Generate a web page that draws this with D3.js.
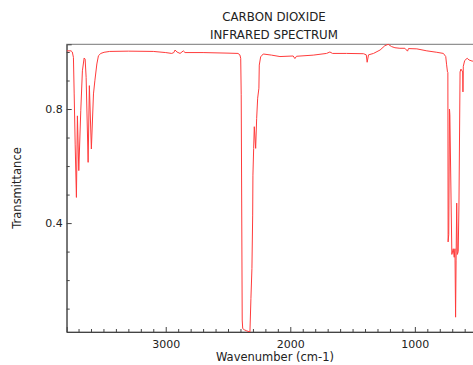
<!DOCTYPE html>
<html>
<head>
<meta charset="utf-8">
<script src="https://cdn.jsdelivr.net/npm/d3@7"></script>
<style>
  body { margin: 0; background: #fff; }
  text { font-family: "DejaVu Sans", sans-serif; fill: #222; }
</style>
</head>
<body>
<div id="chart"></div>
<script>
// spectrum: wavenumber (cm-1) and transmittance
const wavenumber = [
  3794, 3760, 3750, 3741, 3735, 3727, 3717, 3709, 3698, 3682, 3669, 3655, 3647, 3639,
  3623, 3613, 3597, 3580, 3569, 3553, 3540, 3521, 3495, 3450, 3300, 3100, 3000, 2952,
  2935, 2925, 2910, 2885, 2870, 2859, 2845, 2700, 2500, 2420, 2405, 2398, 2394, 2386,
  2382, 2370, 2350, 2324, 2316, 2308, 2302, 2300, 2294, 2289, 2278, 2270, 2262, 2252,
  2249, 2238, 2217, 2150, 2083, 1977, 1963, 1950, 1816, 1709, 1682, 1661, 1548, 1412,
  1390, 1383, 1372, 1332, 1279, 1241, 1214, 1187, 1160, 1120, 1080, 1059, 1051, 984,
  904, 824, 771, 752, 745, 738, 735, 733, 728, 722, 719, 703, 692, 684, 678, 673,
  669, 664, 659, 652, 646, 637, 630, 616, 614, 611, 600, 580, 565, 540, 520
];
const transmittance = [
  1.004, 1.004, 1.0, 0.981, 0.853, 0.677, 0.490, 0.776, 0.584, 0.794, 0.934, 0.979, 0.975, 0.911,
  0.613, 0.882, 0.660, 0.853, 0.899, 0.958, 0.987, 0.995, 0.999, 1.002, 1.003, 1.002, 0.998, 0.995,
  0.998, 1.007, 1.0, 0.995, 1.0, 1.004, 0.998, 0.998, 0.996, 0.995, 0.99, 0.978, 0.85, 0.06,
  0.03, 0.026, 0.022, 0.018, 0.136, 0.241, 0.428, 0.568, 0.662, 0.738, 0.662, 0.767, 0.838, 0.873,
  0.954, 0.983, 0.993, 0.989, 0.984, 0.986, 0.977, 0.985, 0.989, 0.995, 1.0, 0.995, 0.995, 0.994,
  0.99, 0.964, 0.99, 0.995, 1.007, 1.022, 1.027, 1.019, 1.015, 1.013, 1.013, 1.003, 1.012, 1.011,
  1.004, 0.999, 0.995, 0.984, 0.955, 0.93, 0.928, 0.334, 0.36, 0.80, 0.78, 0.29, 0.31, 0.28, 0.31, 0.07,
  0.27, 0.47, 0.29, 0.30, 0.46, 0.93, 0.94, 0.93, 0.86, 0.95, 0.97, 0.978, 0.972, 0.968, 0.968
];
const xMajor = [3000, 2000, 1000];
const yMajor = [0.4, 0.8];
const titleLines = ['CARBON DIOXIDE', 'INFRARED SPECTRUM'];

const width = 473, height = 365;
const plotLeft = 66.7, plotRight = 481, plotTop = 44.3, plotBottom = 332;

const svg = d3.select('#chart').append('svg')
    .attr('width', width)
    .attr('height', height);

const x = d3.scaleLinear().domain([3795, 469]).range([plotLeft, plotRight]);
const y = d3.scaleLinear().domain([0.018, 1.027]).range([plotBottom, plotTop]);

svg.append('clipPath').attr('id', 'plot')
  .append('rect')
    .attr('x', plotLeft).attr('y', plotTop - 1)
    .attr('width', plotRight - plotLeft).attr('height', plotBottom - plotTop + 1);

// frame
svg.append('rect')
    .attr('x', plotLeft).attr('y', plotTop)
    .attr('width', plotRight - plotLeft).attr('height', plotBottom - plotTop)
    .attr('fill', 'none')
    .attr('stroke', '#777')
    .attr('stroke-width', 1);

// x axis, ticks pointing up into the plot
const xMinor = d3.range(500, 3800, 100).filter(d => xMajor.indexOf(d) < 0);
svg.append('g')
    .attr('transform', `translate(0,${plotBottom})`)
    .call(d3.axisBottom(x).tickValues(xMinor).tickSize(-3).tickFormat(''))
    .call(g => g.select('.domain').remove())
    .call(g => g.selectAll('line').attr('stroke', '#444'));
svg.append('g')
    .attr('transform', `translate(0,${plotBottom})`)
    .call(d3.axisBottom(x).tickValues(xMajor).tickSize(-5).tickPadding(8).tickFormat(d3.format('d')))
    .call(g => g.select('.domain').attr('stroke', '#444'))
    .call(g => g.selectAll('line').attr('stroke', '#444'))
    .call(g => g.selectAll('text').attr('font-size', 11).attr('font-family', 'DejaVu Sans').attr('fill', '#222'));

// y axis, ticks pointing right
const yMinor = [0.1, 0.2, 0.3, 0.5, 0.6, 0.7, 0.9, 1.0];
svg.append('g')
    .attr('transform', `translate(${plotLeft},0)`)
    .call(d3.axisLeft(y).tickValues(yMinor).tickSize(-3).tickFormat(''))
    .call(g => g.select('.domain').remove())
    .call(g => g.selectAll('line').attr('stroke', '#444'));
svg.append('g')
    .attr('transform', `translate(${plotLeft},0)`)
    .call(d3.axisLeft(y).tickValues(yMajor).tickSize(-5).tickPadding(4).tickFormat(d3.format('.1f')))
    .call(g => g.select('.domain').attr('stroke', '#444'))
    .call(g => g.selectAll('line').attr('stroke', '#444'))
    .call(g => g.selectAll('text').attr('font-size', 11).attr('font-family', 'DejaVu Sans').attr('fill', '#222'));

// spectrum
const points = wavenumber.map((w, i) => [w, transmittance[i]]);
svg.append('path')
    .datum(points)
    .attr('clip-path', 'url(#plot)')
    .attr('fill', 'none')
    .attr('stroke', '#ff3b3b')
    .attr('stroke-width', 1)
    .attr('d', d3.line().x(d => x(d[0])).y(d => y(d[1])));

// titles and labels
svg.selectAll('.title').data(titleLines).enter().append('text')
    .attr('class', 'title')
    .attr('x', 274)
    .attr('y', (d, i) => 21 + i * 18)
    .attr('text-anchor', 'middle')
    .attr('font-size', 11.8)
    .text(d => d);

svg.append('text')
    .attr('x', 275).attr('y', 361)
    .attr('text-anchor', 'middle')
    .attr('font-size', 11.5)
    .text('Wavenumber (cm-1)');

svg.append('text')
    .attr('transform', 'translate(21,188) rotate(-90)')
    .attr('text-anchor', 'middle')
    .attr('font-size', 11.5)
    .text('Transmittance');
</script>
</body>
</html>
